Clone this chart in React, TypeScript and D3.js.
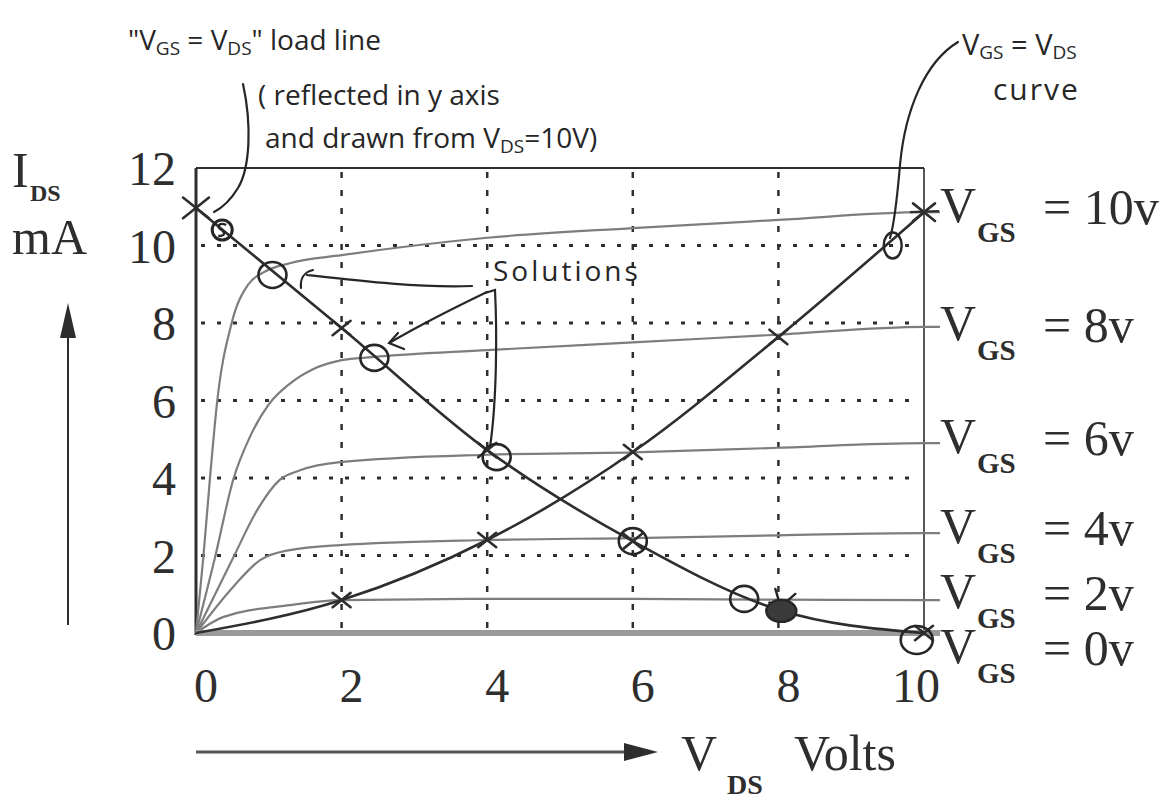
import React from "react";
import * as d3 from "d3";

// Gate-source levels of the family of characteristic curves (volts)
const vgsLevels = [10, 8, 6, 4, 2, 0];

// I_DS (mA) against V_DS (V) for each gate level
const curveVgs10: [number, number][] = [
  [0, 0], [0.1, 1.94], [0.19, 3.95], [0.29, 5.96], [0.49, 8.0], [0.72, 9.0],
  [0.92, 9.3], [1.3, 9.55], [2, 9.75], [4, 10.2], [6, 10.45], [8, 10.66], [10, 10.86],
];
const curveVgs8: [number, number][] = [
  [0, 0], [0.26, 1.94], [0.51, 3.95], [0.75, 5.1], [1.0, 5.9], [1.3, 6.45],
  [1.6, 6.8], [2, 7.04], [2.42, 7.12], [4, 7.3], [6, 7.5], [8, 7.7], [10, 7.9],
];
const curveVgs6: [number, number][] = [
  [0, 0], [0.51, 1.94], [0.84, 3.17], [1.15, 3.95], [1.43, 4.2], [1.98, 4.41],
  [4, 4.6], [6, 4.66], [8, 4.78], [10, 4.9],
];
const curveVgs4: [number, number][] = [
  [0, 0], [0.51, 1.19], [0.88, 1.88], [1.29, 2.14], [1.98, 2.27], [4, 2.4],
  [6, 2.45], [8, 2.52], [10, 2.58],
];
const curveVgs2: [number, number][] = [
  [0, 0], [0.37, 0.41], [1.29, 0.72], [1.98, 0.85], [4, 0.88], [6, 0.88],
  [8, 0.86], [10, 0.85],
];
const curveVgs0: [number, number][] = [[0, 0], [10, 0]];
const characteristics = [curveVgs10, curveVgs8, curveVgs6, curveVgs4, curveVgs2, curveVgs0];

// V_GS = V_DS curve (points where each characteristic meets V_DS = V_GS)
const diagVds = [0, 2, 4, 6, 8, 10];
const diagIds = [0, 0.85, 2.4, 4.67, 7.64, 10.86];

// the same curve reflected in the y axis and drawn from V_DS = 10 V
const loadVds = [0, 2, 4, 6, 8, 10];
const loadIds = [10.97, 7.87, 4.72, 2.37, 0.6, 0];

// circled solutions: load line crossing each characteristic
const solutionVds = [1.05, 2.45, 4.13, 6, 7.53, 9.9];
const solutionIds = [9.24, 7.1, 4.54, 2.37, 0.88, -0.18];

const xTicks = [0, 2, 4, 6, 8, 10];
const yTicks = [0, 2, 4, 6, 8, 10, 12];
const gridX = [2, 4, 6, 8];
const gridY = [2, 4, 6, 8, 10];

const INK = "#2e2e2e";
const PEN = "#262626";
const SERIF = "'Liberation Serif', 'Times New Roman', serif";
const HAND = "'Open Sans', 'DejaVu Sans', sans-serif";

function Cross({ cx, cy, s = 9, w = 2.6 }: { cx: number; cy: number; s?: number; w?: number }) {
  return (
    <g stroke={INK} strokeWidth={w} strokeLinecap="round">
      <line x1={cx - s} y1={cy - s * 0.8} x2={cx + s} y2={cy + s * 0.8} />
      <line x1={cx - s} y1={cy + s * 0.8} x2={cx + s} y2={cy - s * 0.8} />
    </g>
  );
}

export default function App() {
  const W = 1172;
  const H = 799;
  const x = d3.scaleLinear().domain([0, 10]).range([196, 924]);
  const y = d3.scaleLinear().domain([0, 12]).range([633, 168]);

  const smooth = d3
    .line<[number, number]>()
    .x((d) => x(d[0]))
    .y((d) => y(d[1]))
    .curve(d3.curveMonotoneX);

  // each characteristic is carried a little past the frame to its label
  const extended = characteristics.map((c) => [...c, [10.22, c[c.length - 1][1]] as [number, number]]);

  const diag: [number, number][] = diagVds.map((v, i) => [v, diagIds[i]]);
  const load: [number, number][] = loadVds.map((v, i) => [v, loadIds[i]]);

  // label baselines sit just below where each curve leaves the frame
  const labelDy = [10, 13, 10, 10, 8, 30];

  return (
    <svg
      width={W}
      height={H}
      viewBox={`0 0 ${W} ${H}`}
      style={{ position: "absolute", left: 0, top: 0, background: "#fff" }}
    >
      <rect x={0} y={0} width={W} height={H} fill="#fff" />

      {/* grid */}
      {gridY.map((v) => (
        <line key={"gy" + v} x1={x(0) + 5} x2={x(10) - 10} y1={y(v)} y2={y(v)}
          stroke={INK} strokeWidth={3} strokeDasharray="4 12" />
      ))}
      {gridX.map((v) => (
        <line key={"gx" + v} x1={x(v)} x2={x(v)} y1={y(12) + 4} y2={y(0)}
          stroke={INK} strokeWidth={2.5} strokeDasharray="6 12" />
      ))}

      {/* frame */}
      <line x1={x(0)} x2={x(10)} y1={y(12)} y2={y(12)} stroke={INK} strokeWidth={2} />
      <line x1={x(10)} x2={x(10)} y1={y(12)} y2={y(0)} stroke={INK} strokeWidth={1.6} />
      <line x1={x(0)} x2={x(0)} y1={y(12)} y2={y(0) + 2} stroke={INK} strokeWidth={3} />

      {/* characteristic curves */}
      {extended.map((c, k) =>
        vgsLevels[k] === 0 ? (
          <path key={"c" + k} d={smooth(c) ?? ""} fill="none" stroke="#9a9a9a" strokeWidth={6} />
        ) : (
          <path key={"c" + k} d={smooth(c) ?? ""} fill="none" stroke="#7d7d7d" strokeWidth={2.2} />
        )
      )}

      {/* V_GS = V_DS curve and its reflected load line */}
      <path d={smooth(diag) ?? ""} fill="none" stroke={INK} strokeWidth={2.6} />
      <path d={smooth(load) ?? ""} fill="none" stroke={INK} strokeWidth={2.6} />

      {diag.slice(1).map(([v, i]) =>
        v === 10 ? (
          <g key={"dm" + v}>
            <Cross cx={x(v)} cy={y(i)} s={11} />
            <line x1={x(v) - 14} x2={x(v) + 15} y1={y(i)} y2={y(i) - 1} stroke={INK} strokeWidth={2.4} />
          </g>
        ) : (
          <Cross key={"dm" + v} cx={x(v)} cy={y(i)} />
        )
      )}
      {load.map(([v, i]) => (
        <Cross key={"lm" + v} cx={x(v)} cy={y(i)} s={v === 0 ? 13 : 9} />
      ))}

      {/* circled solutions */}
      {solutionVds.map((v, k) => (
        <ellipse key={"s" + k} cx={x(v)} cy={y(solutionIds[k])} rx={v > 9 ? 16 : 14} ry={v > 9 ? 14 : 13}
          fill="none" stroke={PEN} strokeWidth={2.6} />
      ))}

      {/* hand marks on the curves */}
      <circle cx={x(0.36)} cy={y(10.4)} r={10} fill="none" stroke={PEN} strokeWidth={3} />
      <path d={`M${x(0.36) + 4},${y(10.4) - 5} c-6,-3 -10,1 -6,4 c5,3 6,7 -2,7`} fill="none" stroke={PEN} strokeWidth={2.4} />
      <ellipse cx={x(9.57)} cy={y(10.0)} rx={9} ry={13} fill="none" stroke={PEN} strokeWidth={2.4} />
      <ellipse cx={x(8.04)} cy={y(0.57)} rx={15} ry={11} fill="#3a3a3a" stroke={PEN} strokeWidth={2.4} />
      <g stroke={PEN} strokeWidth={2.4} strokeLinecap="round">
        <line x1={x(8.04) - 3} y1={y(0.57) - 12} x2={x(8.04) - 6} y2={y(0.57) - 22} />
        <line x1={x(8.04) + 6} y1={y(0.57) - 10} x2={x(8.04) + 14} y2={y(0.57) - 17} />
      </g>

      {/* y tick labels */}
      {yTicks.map((v) => (
        <text key={"yt" + v} x={176} y={y(v) + 17} textAnchor="end" fontFamily={SERIF} fontSize={48} fill={INK}>
          {v}
        </text>
      ))}
      {/* x tick labels */}
      {xTicks.map((v) => (
        <text key={"xt" + v} x={x(v) + (v === 10 ? -8 : 10)} y={702} textAnchor="middle" fontFamily={SERIF} fontSize={48} fill={INK}>
          {v}
        </text>
      ))}

      {/* axis titles */}
      <text x={12} y={187} fontFamily={SERIF} fontSize={50} fill={INK}>I</text>
      <text x={30} y={201} fontFamily={SERIF} fontSize={24} fontWeight="bold" fill={INK}>DS</text>
      <text x={12} y={254} fontFamily={SERIF} fontSize={50} fill={INK}>mA</text>
      <line x1={68} x2={68} y1={625} y2={334} stroke={INK} strokeWidth={2} />
      <path d="M68,303 L60,338 L76,338 Z" fill={INK} />

      <line x1={196} x2={626} y1={752} y2={752} stroke="#555" strokeWidth={2.8} />
      <path d="M658,752 L624,743 L624,761 Z" fill={INK} />
      <text x={681} y={770} fontFamily={SERIF} fontSize={50} fill={INK}>V</text>
      <text x={727} y={794} fontFamily={SERIF} fontSize={28} fontWeight="bold" fill={INK}>DS</text>
      <text x={794} y={770} fontFamily={SERIF} fontSize={50} fill={INK}>Volts</text>

      {/* curve labels */}
      {vgsLevels.map((g, k) => {
        const c = characteristics[k];
        const base = y(c[c.length - 1][1]) + labelDy[k];
        return (
          <g key={"lab" + g} fontFamily={SERIF} fill={INK}>
            <text x={940} y={base} fontSize={50}>V</text>
            <text x={977} y={base + 20} fontSize={29} fontWeight="bold">GS</text>
            <text x={1043} y={base + 2} fontSize={50}>{`= ${g}v`}</text>
          </g>
        );
      })}

      {/* handwritten notes */}
      <g fontFamily={HAND} fill={PEN}>
        <text x={128} y={50} fontSize={28}>
          "V<tspan fontSize={19} dy={5}>GS</tspan>
          <tspan dy={-5}> = V</tspan>
          <tspan fontSize={19} dy={5}>DS</tspan>
          <tspan dy={-5}>" load line</tspan>
        </text>
        <text x={258} y={105} fontSize={28}>( reflected in y axis</text>
        <text x={265} y={148} fontSize={28}>
          and drawn from V<tspan fontSize={19} dy={5}>DS</tspan>
          <tspan dy={-5}>=10V)</tspan>
        </text>
        <text x={962} y={55} fontSize={29}>
          V<tspan fontSize={19} dy={4}>GS</tspan>
          <tspan dy={-4}> = V</tspan>
          <tspan fontSize={19} dy={4}>DS</tspan>
        </text>
        <text x={993} y={100} fontSize={30} letterSpacing={2}>curve</text>
        <text x={493} y={281} fontSize={28} letterSpacing={3}>Solutions</text>
      </g>

      {/* pointers */}
      <g fill="none" stroke={PEN} strokeWidth={2.2} strokeLinecap="round">
        <path d="M243,84 C252,125 250,168 238,188 C230,201 222,208 214,212" />
        <path d="M958,42 C925,62 905,110 900,165 C897,200 894,225 890,238" />
        <path d="M307,275 C360,281 420,288 472,286" />
        <path d="M301,288 C300,279 304,272 313,270" />
        <path d="M487,292 C460,305 420,325 391,342" />
        <path d="M398,333 L389,343 L404,349" />
        <path d="M485,293 L495,290 C497,330 497,400 490,447" />
      </g>
    </svg>
  );
}
